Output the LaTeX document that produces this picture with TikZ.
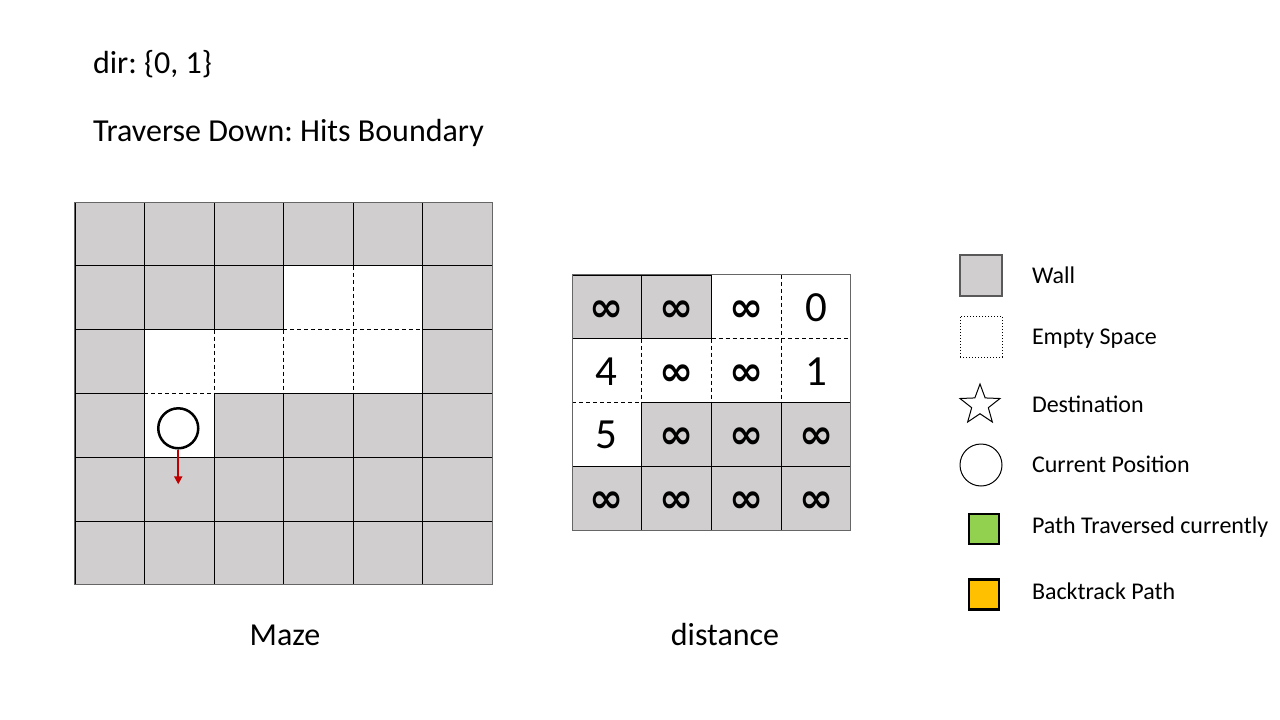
\documentclass[tikz,border=0pt]{standalone}
\usepackage{fontspec}
\setmainfont{Carlito}
\newfontfamily\symfont{DejaVu Sans}
\usepackage{xcolor}
\usetikzlibrary{positioning, arrows.meta, shapes.geometric}
\frenchspacing

\definecolor{wallgray}{RGB}{208,206,207}
\definecolor{pathgreen}{RGB}{146,208,80}
\definecolor{backorange}{RGB}{255,192,0}
\definecolor{stepred}{RGB}{192,0,0}

\newcommand{\infmark}{{\symfont\bfseries\fontsize{41}{41}\selectfont ∞}}

\begin{document}
\begin{tikzpicture}[ x = 1pt, y = -1pt
                     , >={Triangle[width=8pt, length=8pt]}
                     , every node/.style = { inner sep = 0pt, outer sep = 0pt }
                     , cell/.style = { rectangle
                                     , minimum width = 69.6pt
                                     , minimum height = 63.8pt
                                     , text height = 29pt, text depth = 0pt
                                     , font = \fontsize{43}{43}\selectfont }
                     , wallcell/.style = { cell, fill = wallgray, draw = black, line width = 0.9pt }
                     , opencell/.style = { cell }
                     , gap/.style = { dashed, dash pattern = on 4pt off 3pt, line width = 0.9pt }
                     , frame/.style = { draw = black!60, line width = 1pt }
                     , title/.style = { anchor = base west, font = \fontsize{32}{38}\selectfont }
                     , caption/.style = { anchor = base, font = \fontsize{32}{38}\selectfont }
                     , keylabel/.style = { anchor = west, text height = 15pt, text depth = 0pt
                                         , font = \fontsize{24}{28}\selectfont }
                     ]

  \fill[white] (0,0) rectangle (1280,720);
  \useasboundingbox (0,0) rectangle (1280,720);

  \node (dir) [title] at (93,73) {dir: \{0, 1\}};
  \node (move) [title] at (93,141) {Traverse Down: Hits Boundary};

  % maze
  \foreach \row [count = \r from 0] in {{wallcell,wallcell,wallcell,wallcell,wallcell,wallcell},
                                        {wallcell,wallcell,wallcell,opencell,opencell,wallcell},
                                        {wallcell,opencell,opencell,opencell,opencell,wallcell},
                                        {wallcell,opencell,wallcell,wallcell,wallcell,wallcell},
                                        {wallcell,wallcell,wallcell,wallcell,wallcell,wallcell},
                                        {wallcell,wallcell,wallcell,wallcell,wallcell,wallcell}}
    \foreach \k [count = \c from 0] in \row
      \node (m\r\c) [\k] at ({75 + 69.5*(\c + 0.5)}, {202 + 63.8*(\r + 0.5)}) {};

  \draw[gap] (m14.north west) -- (m14.south west);
  \draw[gap] (m23.north west) -- (m23.north east);
  \draw[gap] (m24.north west) -- (m24.north east);
  \draw[gap] (m22.north west) -- (m22.south west);
  \draw[gap] (m23.north west) -- (m23.south west);
  \draw[gap] (m24.north west) -- (m24.south west);
  \draw[gap] (m31.north west) -- (m31.north east);
  \draw[frame] (m00.north west) rectangle (m55.south east);

  \node (pos) [circle, draw, line width = 2.5pt, minimum size = 40pt
              , xshift = -1pt, yshift = -3pt] at (m31) {};
  \coordinate [below = 36pt of pos.south] (stepend);
  \draw[->, stepred, line width = 2.2pt, shorten <= 2pt] (pos.south) -- (stepend);

  \node (mazename) [caption] at (285,645) {Maze};

  % distance
  \foreach \row [count = \r from 0] in {{wallcell/\infmark,wallcell/\infmark,opencell/\infmark,opencell/0},
                                        {opencell/4,opencell/\infmark,opencell/\infmark,opencell/1},
                                        {opencell/5,wallcell/\infmark,wallcell/\infmark,wallcell/\infmark},
                                        {wallcell/\infmark,wallcell/\infmark,wallcell/\infmark,wallcell/\infmark}}
    \foreach \k/\v [count = \c from 0] in \row
      \node (d\r\c) [\k] at ({572 + 69.75*(\c + 0.5)}, {275 + 63.75*(\r + 0.5)}) {\v};

  \draw[gap] (d03.north west) -- (d03.south west);
  \draw[gap] (d12.north west) -- (d12.north east);
  \draw[gap] (d13.north west) -- (d13.north east);
  \draw[gap] (d11.north west) -- (d11.south west);
  \draw[gap] (d12.north west) -- (d12.south west);
  \draw[gap] (d13.north west) -- (d13.south west);
  \draw[gap] (d20.north west) -- (d20.north east);
  \draw[frame] (d00.north west) rectangle (d33.south east);

  \node (distname) [caption] at (725,645) {distance};

  % legend
  \node (wallkey) [rectangle, fill = wallgray, draw = black!65, line width = 1.2pt
                  , minimum width = 42pt, minimum height = 41pt] at (981,275.5) {};
  \node (openkey) [rectangle, draw, dotted, line width = 1pt
                  , minimum width = 42pt, minimum height = 41pt] at (981,336.5) {};
  \node (goalkey) [star, star points = 5, star point ratio = 2.4, draw, line width = 1pt
                  , minimum size = 42pt] at (980,405) {};
  \node (poskey) [circle, draw, line width = 1pt, minimum size = 42pt] at (981,465) {};
  \node (pathkey) [rectangle, fill = pathgreen, draw, line width = 2.5pt
                  , minimum size = 30pt] at (984,529) {};
  \node (backkey) [rectangle, fill = backorange, draw, line width = 2.5pt
                  , minimum size = 30pt] at (984,594.5) {};

  \coordinate (keycol) at (1032,0);
  \node (walltext) [keylabel] at (wallkey -| keycol) {Wall};
  \node (opentext) [keylabel] at (openkey -| keycol) {Empty Space};
  \node (goaltext) [keylabel] at (goalkey -| keycol) {Destination};
  \node (postext) [keylabel] at (poskey -| keycol) {Current Position};
  \node (pathtext) [keylabel, yshift = 3pt] at (pathkey -| keycol) {Path Traversed currently};
  \node (backtext) [keylabel, yshift = 3pt] at (backkey -| keycol) {Backtrack Path};

\end{tikzpicture}
\end{document}
